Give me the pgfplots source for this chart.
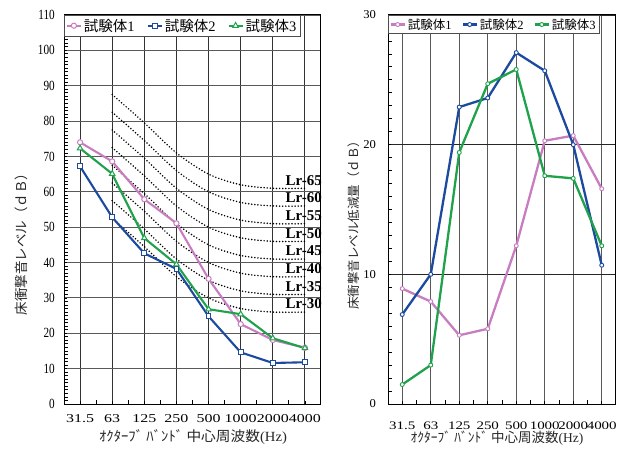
\documentclass[border=0pt]{standalone}
\usepackage{pgfplots}
\pgfplotsset{compat=1.18}
\usepackage{fontspec}
\setmainfont{Liberation Serif}
\newfontfamily\jp{Noto Sans CJK JP}
\definecolor{cpink}{HTML}{C77DBF}
\definecolor{cblue}{HTML}{1B4A9E}
\definecolor{cgreen}{HTML}{20A14B}
\pgfplotsset{
  base/.style={
    scale only axis, anchor=south west, clip=false,
    xmin=-0.5, xmax=7.5,
    xtick={0,...,7},
    xticklabels={31.5,63,125,250,500,1000,2000,4000},
    minor xtick={0.5,1.5,...,6.5},
    tick align=inside,
    xtick pos=bottom, ytick pos=left,
    major tick length=3pt, minor tick length=4pt,
    tick style={black, line width=0.8pt},
    axis line style={black, line width=1pt},
    grid=major,
    x grid style={black!80, line width=0.9pt},
    y grid style={black!65, line width=0.9pt},
    /pgf/number format/assume math mode=true,
    xticklabel style={font=\fontsize{12}{12}\selectfont, xscale=1.33, yshift=-7pt},
    legend columns=3,
    legend cell align=left,
    legend image code/.code={\draw[mark repeat=2,mark phase=2] plot coordinates {(0pt,0pt)(7pt,0pt)(14pt,0pt)};},
  },
  lr/.style={black, line width=1.7pt, dash pattern=on 0pt off 3.1pt, line cap=round, smooth, forget plot},
}
\begin{document}
\begin{tikzpicture}
\useasboundingbox (0pt,0pt) rectangle (627pt,448pt);
% ---------- left chart ----------
\begin{axis}[base,
  at={(64pt,44pt)}, width=257pt, height=389pt,
  ymin=0, ymax=110, ytick={0,10,...,110}, minor y tick num=9,
  yticklabel style={font=\fontsize{14}{14}\selectfont, xscale=0.8, xshift=-8pt},
  legend style={at={(0,1)}, anchor=north west, draw=black!70, line width=0.7pt,
    font=\fontsize{14.5}{14.5}\selectfont, inner sep=1.5pt,
    /tikz/every even column/.append style={column sep=10pt}},
]
\addplot[lr] coordinates {(1,87.5) (2,79.5) (3,71) (4,65) (5,62) (6,61) (7,61)};
\addplot[lr] coordinates {(1,82.5) (2,74.5) (3,66) (4,60) (5,57) (6,56) (7,56)};
\addplot[lr] coordinates {(1,77.5) (2,69.5) (3,61) (4,55) (5,52) (6,51) (7,51)};
\addplot[lr] coordinates {(1,72.5) (2,64.5) (3,56) (4,50) (5,47) (6,46) (7,46)};
\addplot[lr] coordinates {(1,67.5) (2,59.5) (3,51) (4,45) (5,42) (6,41) (7,41)};
\addplot[lr] coordinates {(1,62.5) (2,54.5) (3,46) (4,40) (5,37) (6,36) (7,36)};
\addplot[lr] coordinates {(1,57.5) (2,49.5) (3,41) (4,35) (5,32) (6,31) (7,31)};
\addplot[lr] coordinates {(1,52.5) (2,44.5) (3,36) (4,30) (5,27) (6,26) (7,26)};
\addplot[cpink, line width=2.1pt, mark=*, mark size=2.6pt, mark options={fill=white, line width=1pt}]
  coordinates {(0,74.0) (1,68.6) (2,57.9) (3,51.1) (4,35.4) (5,22.6) (6,18.1) (7,15.9)};
\addlegendentry{{\jp 試験体}1}
\addplot[cblue, line width=2.1pt, mark=square*, mark size=2.4pt, mark options={fill=white, line width=1pt}]
  coordinates {(0,67.2) (1,52.8) (2,42.6) (3,38.2) (4,24.8) (5,14.6) (6,11.6) (7,11.8)};
\addlegendentry{{\jp 試験体}2}
\addplot[cgreen, line width=2.1pt, mark=triangle*, mark size=3.2pt, mark options={fill=white, line width=1pt}]
  coordinates {(0,72.3) (1,65.1) (2,46.9) (3,39.5) (4,26.8) (5,25.4) (6,18.6) (7,15.8)};
\addlegendentry{{\jp 試験体}3}
\begin{scope}[font=\bfseries\fontsize{15}{15}\selectfont]
\node[anchor=base east, inner sep=0pt] at (axis cs:7.53,61.9) {Lr-65};
\node[anchor=base east, inner sep=0pt] at (axis cs:7.53,56.9) {Lr-60};
\node[anchor=base east, inner sep=0pt] at (axis cs:7.53,51.9) {Lr-55};
\node[anchor=base east, inner sep=0pt] at (axis cs:7.53,46.9) {Lr-50};
\node[anchor=base east, inner sep=0pt] at (axis cs:7.53,41.9) {Lr-45};
\node[anchor=base east, inner sep=0pt] at (axis cs:7.53,36.9) {Lr-40};
\node[anchor=base east, inner sep=0pt] at (axis cs:7.53,31.9) {Lr-35};
\node[anchor=base east, inner sep=0pt] at (axis cs:7.53,26.9) {Lr-30};
\end{scope}
\end{axis}
% ---------- right chart ----------
\begin{axis}[base,
  at={(388pt,44pt)}, width=228pt, height=389pt,
  ymin=0, ymax=30, ytick={0,10,20,30}, minor y tick num=9,
  x grid style={black!65, line width=0.9pt},
  y grid style={black!85, line width=0.9pt},
  yticklabel style={font=\fontsize{12}{12}\selectfont, xscale=1.05, xshift=-8pt},
  xticklabel style={font=\fontsize{11.5}{11.5}\selectfont, xscale=0.98, yshift=-7pt},
  legend style={at={(0,1)}, anchor=north west, draw=black!70, line width=0.7pt,
    font=\fontsize{12.5}{12.5}\selectfont, inner sep=1.2pt,
    /tikz/every even column/.append style={column sep=8pt}},
  every axis plot/.append style={line width=2.3pt, mark=*, mark size=2pt, mark options={fill=white, line width=0.9pt}},
]
\addplot[cpink] coordinates {(0,8.9) (1,7.9) (2,5.3) (3,5.8) (4,12.2) (5,20.3) (6,20.7) (7,16.6)};
\addlegendentry{{\jp 試験体}1}
\addplot[cblue] coordinates {(0,6.9) (1,10.0) (2,22.9) (3,23.6) (4,27.1) (5,25.7) (6,20.0) (7,10.7)};
\addlegendentry{{\jp 試験体}2}
\addplot[cgreen] coordinates {(0,1.5) (1,3.0) (2,19.4) (3,24.7) (4,25.8) (5,17.6) (6,17.4) (7,12.2)};
\addlegendentry{{\jp 試験体}3}
\end{axis}
% ---------- axis titles ----------
\node[rotate=90, font=\jp\fontsize{13.5}{13.5}\selectfont, text=black!85] at (21pt,207pt) {床衝撃音レベル（ｄＢ）};
\node[rotate=90, font=\jp\fontsize{12.5}{12.5}\selectfont, text=black!85] at (354pt,226pt) {床衝撃音レベル低減量（ｄＢ）};
\node[font=\fontsize{14}{14}\selectfont, text=black!85, xscale=1.05] at (193pt,11pt) {{\jp ｵｸﾀｰﾌﾞ ﾊﾞﾝﾄﾞ 中心周波数}(Hz)};
\node[font=\fontsize{13.5}{13.5}\selectfont, text=black!85] at (497pt,10pt) {{\jp ｵｸﾀｰﾌﾞ ﾊﾞﾝﾄﾞ 中心周波数}(Hz)};
\end{tikzpicture}
\end{document}
